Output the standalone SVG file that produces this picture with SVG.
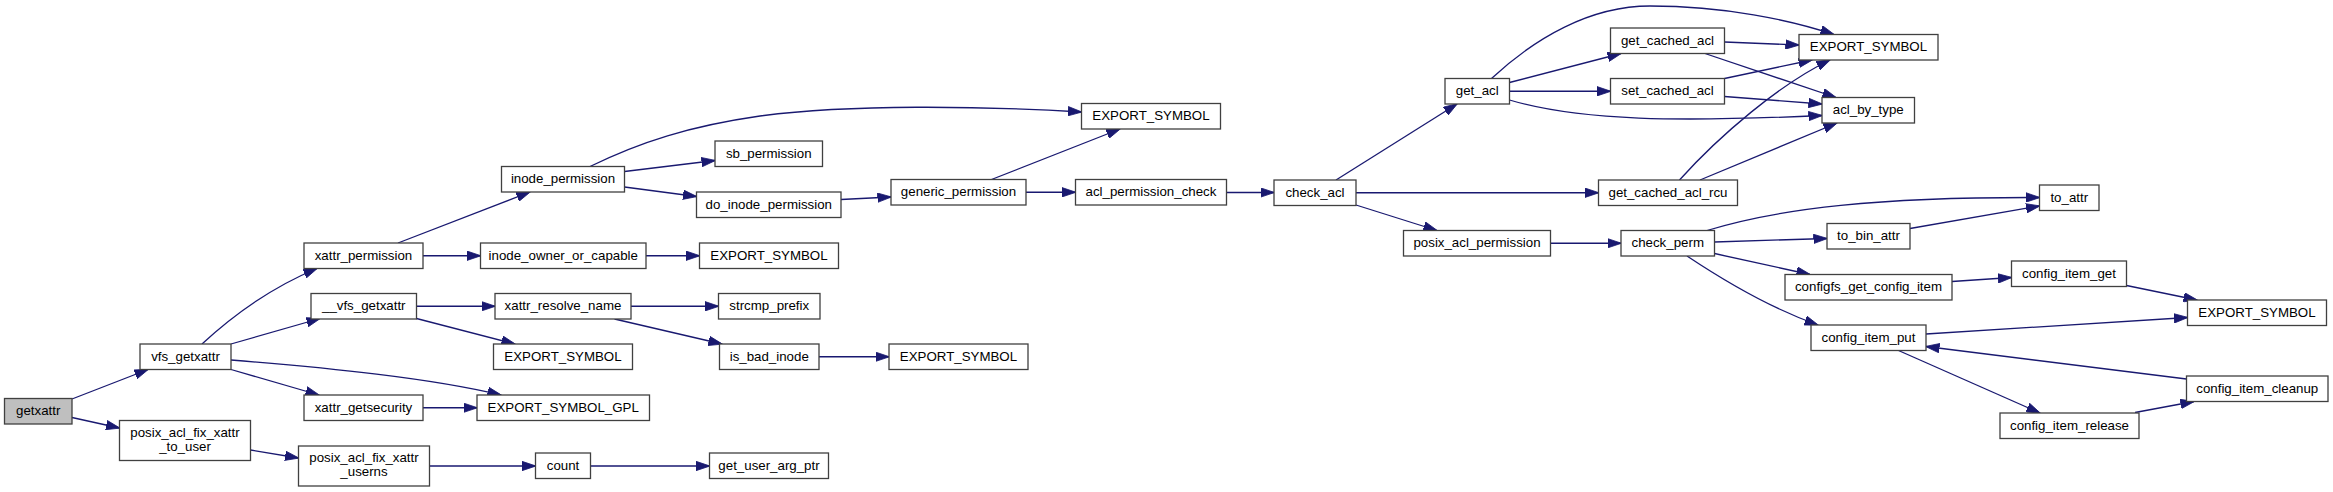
<svg xmlns="http://www.w3.org/2000/svg" width="2333" height="492" viewBox="0 0 2333 492">
<style>
.b{fill:#fff;stroke:#404040;stroke-width:1.3}
.g{fill:#bfbfbf;stroke:#404040;stroke-width:1.3}
text{font-family:"Liberation Sans",Arial,Helvetica,sans-serif;font-size:13.3px;fill:#000;text-anchor:middle}
.e path{fill:none;stroke:#191970;stroke-width:1.3;marker-end:url(#a)}
</style>
<defs>
<marker id="a" markerUnits="userSpaceOnUse" markerWidth="14" markerHeight="10" viewBox="0 0 14 10" refX="13.5" refY="5" orient="auto">
<path d="M0,0.3 L14,5 L0,9.7 z" fill="#191970" stroke="#191970" stroke-width="0.8"/>
</marker>
</defs>
<rect width="2333" height="492" fill="#fff"/>
<g id="connectors" class="e">
<path d="M72,399 L148,369.5"/>
<path d="M72,417.5 L119.5,428"/>
<path d="M202,344 C228,320 265,290 317,268.5"/>
<path d="M231,344 L320,318.5"/>
<path d="M231,360 C330,368 430,378 501,395"/>
<path d="M231,369.5 L319,395"/>
<path d="M250.5,450 L298.5,458"/>
<path d="M398,243 L530,192"/>
<path d="M423,255.75 L480.5,255.75"/>
<path d="M416.5,306.25 L495,306.25"/>
<path d="M416.5,318.5 L515,344"/>
<path d="M423,407.75 L477,407.75"/>
<path d="M429.5,466 L535.5,466"/>
<path d="M590,166.5 C640,142 690,126 760,116 C850,104 980,106 1081.5,112"/>
<path d="M624.5,171.5 L715,160.5"/>
<path d="M624.5,187 L696.5,196.5"/>
<path d="M646,255.75 L699.5,255.75"/>
<path d="M631,306.25 L718.5,306.25"/>
<path d="M614.5,319 L722,344"/>
<path d="M819,356.75 L889,356.75"/>
<path d="M590.5,466 L709.5,466"/>
<path d="M841,199.5 L891,197"/>
<path d="M991.5,179.5 L1120,129"/>
<path d="M1026,192.25 L1075.5,192.25"/>
<path d="M1226.5,192.5 L1274,192.5"/>
<path d="M1336,180 L1457,104"/>
<path d="M1356,192.75 L1598.5,192.75"/>
<path d="M1356,205 L1437,230.5"/>
<path d="M1491.5,78.5 C1535,38 1590,6 1650,6 C1725,6 1790,20 1834,34.5"/>
<path d="M1509.5,82.5 L1621,53.5"/>
<path d="M1509.5,91.25 L1610.5,91.25"/>
<path d="M1509.5,100 C1580,121 1680,122 1822,115.5"/>
<path d="M1724.5,42 L1799,45"/>
<path d="M1705,53.5 L1836,97.5"/>
<path d="M1724.5,78.5 L1812,60"/>
<path d="M1724.5,96.5 L1822,104"/>
<path d="M1679.5,180 C1720,135 1780,84 1830,60"/>
<path d="M1700,180 L1837,123"/>
<path d="M1550.5,243.25 L1621,243.25"/>
<path d="M1707,230.5 C1780,208 1880,197 2039.5,197.5"/>
<path d="M1714.5,242 L1827,238.5"/>
<path d="M1714.5,253.5 L1810,274.5"/>
<path d="M1687,256 C1720,278 1770,308 1818,325"/>
<path d="M1910,228.5 L2039.5,206"/>
<path d="M1952,281.5 L2011.5,277.5"/>
<path d="M2126.5,285.5 L2197,300"/>
<path d="M1926,334 L2187.5,317.5"/>
<path d="M1898.5,350.5 L2040,413"/>
<path d="M2135,412.5 L2194,401.5"/>
<path d="M2186.5,379 L1926,346.5"/>
</g>
<g id="n_getxattr"><rect class="g" x="4.5" y="398.5" width="67.5" height="25.5"/><text x="38.25" y="415.25">getxattr</text></g>
<g id="n_vfs_getxattr"><rect class="b" x="140" y="344" width="91" height="25.5"/><text x="185.5" y="360.75">vfs_getxattr</text></g>
<g id="n_posix_acl_fix_xattr_to_user"><rect class="b" x="119.5" y="420.5" width="131" height="40"/><text x="185" y="436.5">posix_acl_fix_xattr</text><text x="185" y="450.5">_to_user</text></g>
<g id="n_xattr_permission"><rect class="b" x="304" y="243" width="119" height="25.5"/><text x="363.5" y="259.75">xattr_permission</text></g>
<g id="n___vfs_getxattr"><rect class="b" x="311" y="293.5" width="105.5" height="25.5"/><text x="363.75" y="310.25">__vfs_getxattr</text></g>
<g id="n_xattr_getsecurity"><rect class="b" x="304" y="395" width="119" height="25.5"/><text x="363.5" y="411.75">xattr_getsecurity</text></g>
<g id="n_posix_acl_fix_xattr_userns"><rect class="b" x="298.5" y="446" width="131" height="40"/><text x="364" y="462">posix_acl_fix_xattr</text><text x="364" y="476">_userns</text></g>
<g id="n_inode_permission"><rect class="b" x="501.5" y="166.5" width="123" height="25.5"/><text x="563" y="183.25">inode_permission</text></g>
<g id="n_inode_owner_or_capable"><rect class="b" x="480.5" y="243" width="165.5" height="25.5"/><text x="563.25" y="259.75">inode_owner_or_capable</text></g>
<g id="n_xattr_resolve_name"><rect class="b" x="495" y="293.5" width="136" height="25.5"/><text x="563" y="310.25">xattr_resolve_name</text></g>
<g id="n_export_symbol_a"><rect class="b" x="493.5" y="344" width="139" height="25.5"/><text x="563" y="360.75">EXPORT_SYMBOL</text></g>
<g id="n_export_symbol_gpl"><rect class="b" x="477" y="395" width="172.5" height="25.5"/><text x="563.25" y="411.75">EXPORT_SYMBOL_GPL</text></g>
<g id="n_count"><rect class="b" x="535.5" y="453" width="55" height="25.5"/><text x="563" y="469.75">count</text></g>
<g id="n_sb_permission"><rect class="b" x="715" y="141" width="107.5" height="25.5"/><text x="768.75" y="157.75">sb_permission</text></g>
<g id="n_do_inode_permission"><rect class="b" x="696.5" y="192" width="144.5" height="25.5"/><text x="768.75" y="208.75">do_inode_permission</text></g>
<g id="n_export_symbol_b"><rect class="b" x="699.5" y="243" width="139" height="25.5"/><text x="769" y="259.75">EXPORT_SYMBOL</text></g>
<g id="n_strcmp_prefix"><rect class="b" x="718.5" y="293.5" width="101.5" height="25.5"/><text x="769.25" y="310.25">strcmp_prefix</text></g>
<g id="n_is_bad_inode"><rect class="b" x="719.5" y="344" width="99.5" height="25.5"/><text x="769.25" y="360.75">is_bad_inode</text></g>
<g id="n_get_user_arg_ptr"><rect class="b" x="709.5" y="453" width="119" height="25.5"/><text x="769" y="469.75">get_user_arg_ptr</text></g>
<g id="n_generic_permission"><rect class="b" x="891" y="179.5" width="135" height="25.5"/><text x="958.5" y="196.25">generic_permission</text></g>
<g id="n_export_symbol_c"><rect class="b" x="889" y="344" width="139" height="25.5"/><text x="958.5" y="360.75">EXPORT_SYMBOL</text></g>
<g id="n_export_symbol_d"><rect class="b" x="1081.5" y="103.5" width="139" height="25.5"/><text x="1151" y="120.25">EXPORT_SYMBOL</text></g>
<g id="n_acl_permission_check"><rect class="b" x="1075.5" y="179.5" width="151" height="25.5"/><text x="1151" y="196.25">acl_permission_check</text></g>
<g id="n_check_acl"><rect class="b" x="1274" y="180" width="82" height="25.5"/><text x="1315" y="196.75">check_acl</text></g>
<g id="n_get_acl"><rect class="b" x="1445" y="78.5" width="64.5" height="25.5"/><text x="1477.25" y="95.25">get_acl</text></g>
<g id="n_posix_acl_permission"><rect class="b" x="1403.5" y="230.5" width="147" height="25.5"/><text x="1477" y="247.25">posix_acl_permission</text></g>
<g id="n_get_cached_acl"><rect class="b" x="1610.5" y="28" width="114" height="25.5"/><text x="1667.5" y="44.75">get_cached_acl</text></g>
<g id="n_set_cached_acl"><rect class="b" x="1610.5" y="78.5" width="114" height="25.5"/><text x="1667.5" y="95.25">set_cached_acl</text></g>
<g id="n_get_cached_acl_rcu"><rect class="b" x="1598.5" y="180" width="139" height="25.5"/><text x="1668" y="196.75">get_cached_acl_rcu</text></g>
<g id="n_check_perm"><rect class="b" x="1621" y="230.5" width="93.5" height="25.5"/><text x="1667.75" y="247.25">check_perm</text></g>
<g id="n_export_symbol_e"><rect class="b" x="1799" y="34.5" width="139" height="25.5"/><text x="1868.5" y="51.25">EXPORT_SYMBOL</text></g>
<g id="n_acl_by_type"><rect class="b" x="1822" y="97.5" width="92.5" height="25.5"/><text x="1868.25" y="114.25">acl_by_type</text></g>
<g id="n_to_bin_attr"><rect class="b" x="1827" y="223.5" width="83" height="25.5"/><text x="1868.5" y="240.25">to_bin_attr</text></g>
<g id="n_configfs_get_config_item"><rect class="b" x="1785" y="274.5" width="167" height="25.5"/><text x="1868.5" y="291.25">configfs_get_config_item</text></g>
<g id="n_config_item_put"><rect class="b" x="1811" y="325" width="115" height="25.5"/><text x="1868.5" y="341.75">config_item_put</text></g>
<g id="n_to_attr"><rect class="b" x="2039.5" y="185" width="59.5" height="25.5"/><text x="2069.25" y="201.75">to_attr</text></g>
<g id="n_config_item_get"><rect class="b" x="2011.5" y="261" width="115" height="25.5"/><text x="2069" y="277.75">config_item_get</text></g>
<g id="n_config_item_release"><rect class="b" x="2000" y="413" width="139" height="25.5"/><text x="2069.5" y="429.75">config_item_release</text></g>
<g id="n_export_symbol_f"><rect class="b" x="2187.5" y="300" width="139" height="25.5"/><text x="2257" y="316.75">EXPORT_SYMBOL</text></g>
<g id="n_config_item_cleanup"><rect class="b" x="2186.5" y="376" width="141.5" height="25.5"/><text x="2257.25" y="392.75">config_item_cleanup</text></g>
</svg>
